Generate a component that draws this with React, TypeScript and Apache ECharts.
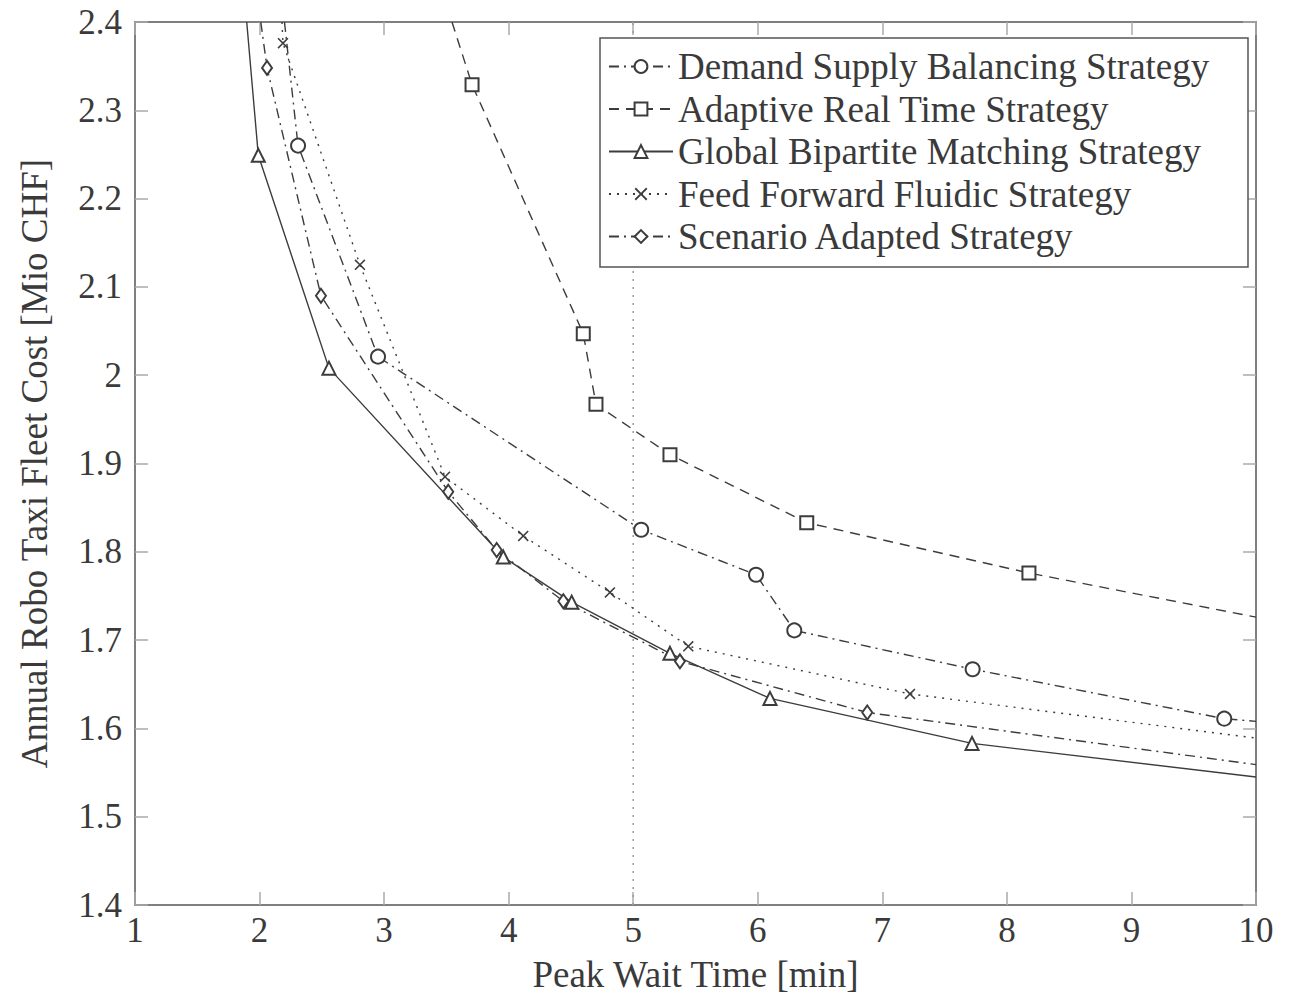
import React, { useEffect, useRef } from 'react';
import * as echarts from 'echarts';

const seriesNames = [
  'Demand Supply Balancing Strategy',
  'Adaptive Real Time Strategy',
  'Global Bipartite Matching Strategy',
  'Feed Forward Fluidic Strategy',
  'Scenario Adapted Strategy',
];

// First and last points of each curve are where it leaves the plot frame (no marker there).
const demandX = [2.2, 2.309, 2.951, 5.064, 5.986, 6.293, 7.725, 9.745, 10];
const demandY = [2.4, 2.26, 2.021, 1.825, 1.774, 1.711, 1.667, 1.611, 1.608];

const adaptiveX = [3.545, 3.706, 4.599, 4.701, 5.295, 6.393, 8.177, 10];
const adaptiveY = [2.4, 2.329, 2.047, 1.967, 1.91, 1.833, 1.776, 1.726];

const globalX = [1.897, 1.99, 2.557, 3.957, 4.506, 5.295, 6.098, 7.72, 10];
const globalY = [2.4, 2.249, 2.008, 1.794, 1.743, 1.685, 1.634, 1.583, 1.545];

const feedX = [2.18, 2.188, 2.806, 3.489, 4.117, 4.813, 5.442, 7.222, 10];
const feedY = [2.4, 2.376, 2.125, 1.885, 1.818, 1.754, 1.693, 1.639, 1.589];

const scenarioX = [2.01, 2.06, 2.493, 3.515, 3.904, 4.439, 5.375, 6.879, 10];
const scenarioY = [2.4, 2.348, 2.09, 1.868, 1.802, 1.744, 1.676, 1.618, 1.559];

const refLineX = [5, 5];
const refLineY = [1.4, 2.4];

const xAxisName = 'Peak Wait Time [min]';
const yAxisName = 'Annual Robo Taxi Fleet Cost [Mio CHF]';

const FONT = 'Liberation Serif';
const INK = '#3a3a3a';
const LINE = '#3c3c3c';
const X_PATH = 'path://M1,0L5,4L9,0L10,1L6,5L10,9L9,10L5,6L1,10L0,9L4,5L0,1Z';

const DASHED = [10, 7];
const DASHDOT = [10, 5, 2, 5];
const DOTTED = [2, 6];

function buildData(xs: number[], ys: number[]) {
  return xs.map((x, i) => {
    const item: any = { value: [x, ys[i]] };
    if (i === 0 || i === xs.length - 1) item.symbol = 'none';
    return item;
  });
}

function makeSeries(
  name: string,
  xs: number[],
  ys: number[],
  symbol: string,
  symbolSize: any,
  dash: any,
  isPath: boolean
) {
  return {
    name,
    type: 'line',
    data: buildData(xs, ys),
    symbol,
    symbolSize,
    showAllSymbol: true,
    clip: true,
    z: 3,
    lineStyle: { color: LINE, width: 1.4, type: dash },
    itemStyle: isPath
      ? { color: LINE, borderWidth: 0 }
      : { color: LINE, borderWidth: 1.5 },
    emphasis: { disabled: true },
  };
}

export default function App() {
  const ref = useRef<HTMLDivElement>(null);

  useEffect(() => {
    if (!ref.current) return;
    const chart = echarts.init(ref.current, null, { renderer: 'svg' });

    const tickStyle = { show: true, inside: true, length: 13, lineStyle: { color: '#aaaaaa', width: 1.5 } };
    const frameLine = { show: true, lineStyle: { color: '#555555', width: 1.5 } };
    const labelStyle = { fontFamily: FONT, fontSize: 35, color: INK };

    const option: any = {
      animation: false,
      backgroundColor: '#ffffff',
      textStyle: { fontFamily: FONT },
      grid: { left: 135, top: 22, right: 36, bottom: 94, containLabel: false },
      xAxis: [
        {
          type: 'value',
          min: 1,
          max: 10,
          interval: 1,
          position: 'bottom',
          axisLine: frameLine,
          axisTick: tickStyle,
          splitLine: { show: false },
          axisLabel: { ...labelStyle, margin: 8 },
          name: xAxisName,
          nameLocation: 'middle',
          nameGap: 51,
          nameTextStyle: { fontFamily: FONT, fontSize: 37, color: INK },
        },
        {
          type: 'value',
          min: 1,
          max: 10,
          interval: 1,
          position: 'top',
          axisLine: frameLine,
          axisTick: tickStyle,
          splitLine: { show: false },
          axisLabel: { show: false },
        },
      ],
      yAxis: [
        {
          type: 'value',
          min: 1.4,
          max: 2.4,
          interval: 0.1,
          position: 'left',
          axisLine: frameLine,
          axisTick: tickStyle,
          splitLine: { show: false },
          axisLabel: { ...labelStyle, margin: 13 },
          name: yAxisName,
          nameLocation: 'middle',
          nameGap: 82,
          nameTextStyle: { fontFamily: FONT, fontSize: 37, color: INK },
        },
        {
          type: 'value',
          min: 1.4,
          max: 2.4,
          interval: 0.1,
          position: 'right',
          axisLine: frameLine,
          axisTick: tickStyle,
          splitLine: { show: false },
          axisLabel: { show: false },
        },
      ],
      legend: {
        orient: 'vertical',
        left: 608,
        top: 48,
        padding: 0,
        itemWidth: 64,
        itemHeight: 16,
        itemGap: 5.5,
        data: seriesNames,
        textStyle: { fontFamily: FONT, fontSize: 37, color: INK },
        selectedMode: false,
        z: 5,
      },
      graphic: [
        {
          type: 'rect',
          z: 4,
          shape: { x: 600, y: 38, width: 648, height: 229 },
          style: { fill: '#ffffff', stroke: '#555555', lineWidth: 1.5 },
          silent: true,
        },
      ],
      series: [
        {
          name: 'ref',
          type: 'line',
          data: refLineX.map((x, i) => [x, refLineY[i]]),
          symbol: 'none',
          silent: true,
          z: 1,
          lineStyle: { color: '#999999', width: 1.5, type: DOTTED },
        },
        makeSeries(seriesNames[0], demandX, demandY, 'emptyCircle', 14, DASHDOT, false),
        makeSeries(seriesNames[1], adaptiveX, adaptiveY, 'emptyRect', 13, DASHED, false),
        makeSeries(seriesNames[2], globalX, globalY, 'emptyTriangle', 13, 'solid', false),
        makeSeries(seriesNames[3], feedX, feedY, X_PATH, 11, DOTTED, true),
        makeSeries(seriesNames[4], scenarioX, scenarioY, 'emptyDiamond', [10, 14], DASHDOT, false),
      ],
    };

    chart.setOption(option);
    return () => chart.dispose();
  }, []);

  return (
    <div
      ref={ref}
      style={{ position: 'fixed', left: 0, top: 0, width: 1292, height: 999, background: '#fff' }}
    />
  );
}
